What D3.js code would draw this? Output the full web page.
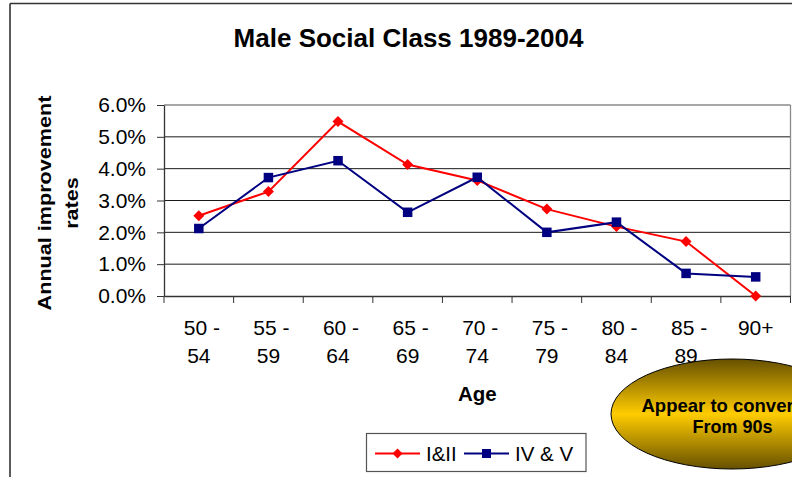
<!DOCTYPE html>
<html>
<head>
<meta charset="utf-8">
<script src="https://cdn.jsdelivr.net/npm/d3@7"></script>
<style>
  html, body { margin: 0; padding: 0; background: #fff; overflow: hidden; }
  svg { display: block; font-family: Arial, "Liberation Sans", sans-serif; }
</style>
</head>
<body>
<svg id="chart" width="792" height="477"></svg>
<script>
const categories = ["50 - 54", "55 - 59", "60 - 64", "65 - 69", "70 - 74", "75 - 79", "80 - 84", "85 - 89", "90+"];
const classI_II = [0.0252, 0.0328, 0.0548, 0.0413, 0.0363, 0.0273, 0.0218, 0.0171, 0.0000];
const classIV_V = [0.0212, 0.0372, 0.0425, 0.0263, 0.0373, 0.0200, 0.0232, 0.0071, 0.0060];
const yTicks = [0, 0.01, 0.02, 0.03, 0.04, 0.05, 0.06];
const seriesNames = ["I&II", "IV & V"];
const titleText = "Male Social Class 1989-2004";
const yTitleLines = ["Annual improvement", "rates"];
const xTitle = "Age";
const noteLines = ["Appear to converge", "From 90s"];

const svg = d3.select("#chart");
const W = 792, H = 477;
const plot = { left: 164, right: 790.5, top: 105, bottom: 296 };

// outer chart border (left and top visible)
svg.append("line").attr("x1", 10).attr("x2", 10).attr("y1", 3.5).attr("y2", H)
  .attr("stroke", "#333").attr("stroke-width", 1.6);
svg.append("line").attr("x1", 10).attr("x2", W).attr("y1", 3.5).attr("y2", 3.5)
  .attr("stroke", "#333").attr("stroke-width", 1.6);

const x = d3.scaleBand().domain(categories).range([plot.left, plot.right]).padding(0);
const y = d3.scaleLinear().domain([0, 0.06]).range([plot.bottom, plot.top]);
const cx = c => x(c) + x.bandwidth() / 2;

// gridlines
svg.append("g").selectAll("line").data(yTicks.filter(t => t > 0 && t < 0.06)).join("line")
  .attr("x1", plot.left).attr("x2", plot.right)
  .attr("y1", d => y(d)).attr("y2", d => y(d))
  .attr("stroke", "#1a1a1a").attr("stroke-width", 1);

// plot border top and right (gray)
svg.append("line").attr("x1", plot.left).attr("x2", plot.right).attr("y1", y(0.06)).attr("y2", y(0.06))
  .attr("stroke", "#8a8a8a").attr("stroke-width", 1.3);
svg.append("line").attr("x1", plot.right).attr("x2", plot.right).attr("y1", plot.top).attr("y2", plot.bottom)
  .attr("stroke", "#8a8a8a").attr("stroke-width", 1.3);

// Y axis
const yAxis = svg.append("g").attr("transform", `translate(${plot.left},0)`)
  .call(d3.axisLeft(y).tickValues(yTicks).tickFormat(d3.format(".1%")).tickSizeInner(7).tickSizeOuter(0).tickPadding(11));
yAxis.select(".domain").attr("stroke", "#333").attr("stroke-width", 1.3);
yAxis.selectAll(".tick line").attr("stroke", "#333").attr("stroke-width", 1);
yAxis.selectAll(".tick text").attr("font-size", 21).attr("fill", "#000")
  .attr("font-family", "Arial, 'Liberation Sans', sans-serif");

// X axis
const xAxis = svg.append("g").attr("transform", `translate(0,${plot.bottom})`)
  .call(d3.axisBottom(x).tickSize(0).tickFormat(""));
xAxis.select(".domain").attr("stroke", "#333").attr("stroke-width", 1.3);
const boundaries = categories.map(c => x(c)).concat([plot.right]);
svg.append("g").selectAll("line").data(boundaries).join("line")
  .attr("x1", d => d).attr("x2", d => d).attr("y1", plot.bottom).attr("y2", plot.bottom + 7)
  .attr("stroke", "#333").attr("stroke-width", 1);

// X labels (two lines)
const xl = svg.append("g").attr("font-size", 21).attr("text-anchor", "middle").attr("fill", "#000");
categories.forEach(c => {
  const parts = c.includes(" - ") ? [c.split(" - ")[0] + " -", c.split(" - ")[1]] : [c];
  const t = xl.append("text").attr("x", cx(c)).attr("y", 334.5);
  parts.forEach((p, i) => {
    t.append("tspan").attr("x", p.endsWith(" -") ? cx(c) + 3 : cx(c)).attr("dy", i === 0 ? 0 : 28).text(p);
  });
});

// X title
svg.append("text").attr("x", (plot.left + plot.right) / 2).attr("y", 401)
  .attr("text-anchor", "middle").attr("font-size", 20.5).attr("font-weight", "bold").text(xTitle);

// Title
svg.append("text").attr("x", 408.5).attr("y", 47).attr("text-anchor", "middle")
  .attr("font-size", 26).attr("font-weight", "bold").text(titleText);

// Y title (rotated, two lines)
const yt = svg.append("text").attr("transform", "translate(51,203) rotate(-90) scale(1.2,1)")
  .attr("text-anchor", "middle").attr("font-size", 18).attr("font-weight", "bold");
yTitleLines.forEach((l, i) => {
  yt.append("tspan").attr("x", 0).attr("dy", i === 0 ? 0 : 27).text(l);
});

// Lines
const line = d3.line().x((d, i) => cx(categories[i])).y(d => y(d));
svg.append("path").datum(classI_II).attr("d", line).attr("fill", "none").attr("stroke", "#ff0000").attr("stroke-width", 2);
svg.append("path").datum(classIV_V).attr("d", line).attr("fill", "none").attr("stroke", "#000080").attr("stroke-width", 2);

const diamondPath = (s) => `M0,${-s}L${s},0L0,${s}L${-s},0Z`;
svg.append("g").selectAll("path").data(classI_II).join("path")
  .attr("d", diamondPath(5.5))
  .attr("transform", (d, i) => `translate(${cx(categories[i])},${y(d)})`)
  .attr("fill", "#ff0000");
svg.append("g").selectAll("rect").data(classIV_V).join("rect")
  .attr("x", (d, i) => cx(categories[i]) - 4.75).attr("y", d => y(d) - 4.75)
  .attr("width", 9.5).attr("height", 9.5).attr("fill", "#000080");

// Legend
const lg = svg.append("g");
lg.append("rect").attr("x", 366.5).attr("y", 433.5).attr("width", 219.5).attr("height", 38)
  .attr("fill", "#fff").attr("stroke", "#555").attr("stroke-width", 1.2);
const legendItems = [
  { name: seriesNames[0], color: "#ff0000", x0: 375, type: "diamond" },
  { name: seriesNames[1], color: "#000080", x0: 464, type: "square" }
];
legendItems.forEach(it => {
  lg.append("line").attr("x1", it.x0).attr("x2", it.x0 + 45).attr("y1", 453.5).attr("y2", 453.5)
    .attr("stroke", it.color).attr("stroke-width", 2);
  if (it.type === "diamond") {
    lg.append("path").attr("d", diamondPath(5)).attr("transform", `translate(${it.x0 + 22.5},453.5)`).attr("fill", it.color);
  } else {
    lg.append("rect").attr("x", it.x0 + 22.5 - 4.5).attr("y", 449).attr("width", 9).attr("height", 9).attr("fill", it.color);
  }
  lg.append("text").attr("x", it.x0 + 51).attr("y", 461).attr("font-size", 20.5).text(it.name);
});

// Annotation ellipse
const defs = svg.append("defs");
const grad = defs.append("linearGradient").attr("id", "gold").attr("x1", 0).attr("y1", 0).attr("x2", 0).attr("y2", 1);
grad.append("stop").attr("offset", "0%").attr("stop-color", "#665000");
grad.append("stop").attr("offset", "50%").attr("stop-color", "#ffcc00");
grad.append("stop").attr("offset", "100%").attr("stop-color", "#665000");
svg.append("ellipse").attr("cx", 732).attr("cy", 414).attr("rx", 121).attr("ry", 55)
  .attr("fill", "url(#gold)").attr("stroke", "#000").attr("stroke-width", 1);
svg.append("text").attr("x", 641.5).attr("y", 411.5).attr("font-size", 18.5).attr("font-weight", "bold").text(noteLines[0]);
svg.append("text").attr("x", 732.5).attr("y", 432.5).attr("text-anchor", "middle").attr("font-size", 18).attr("font-weight", "bold").text(noteLines[1]);
</script>
</body>
</html>
